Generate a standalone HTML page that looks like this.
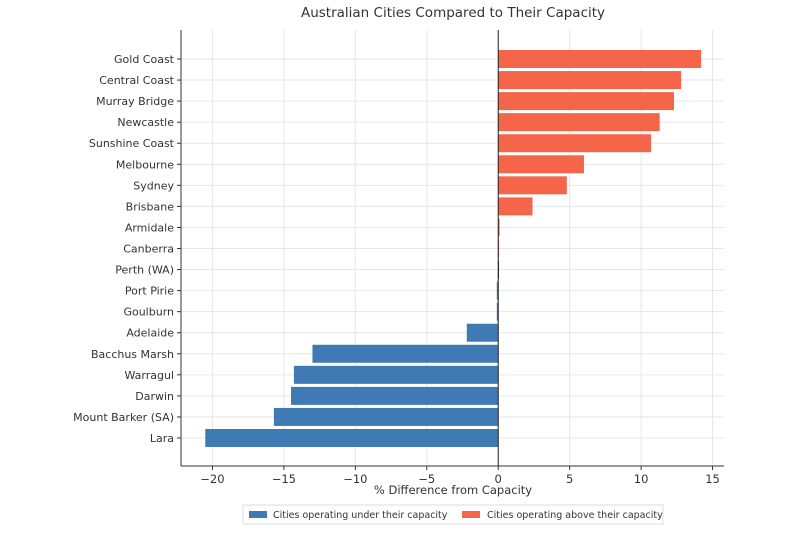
<!DOCTYPE html>
<html><head><meta charset="utf-8"><style>
body{margin:0;background:#fff;font-family:"DejaVu Sans","Liberation Sans",sans-serif;}
svg text{font-family:"DejaVu Sans","Liberation Sans",sans-serif;fill:#333;}
</style></head><body>
<svg id="chart" width="800" height="530" xmlns="http://www.w3.org/2000/svg">
<text x="453" y="17" font-size="13.5" text-anchor="middle">Australian Cities Compared to Their Capacity</text>
<g id="grid"></g><g id="bars"></g><g id="axes"></g>
<text x="453" y="494" font-size="11.5" text-anchor="middle">% Difference from Capacity</text>
<g>
<rect x="243" y="505" width="420" height="19" fill="#fff" stroke="#ddd"/>
<rect x="249" y="511" width="18" height="7" fill="#3f7ab4"/>
<text x="273" y="518" font-size="9.5">Cities operating under their capacity</text>
<rect x="462" y="511" width="18" height="7" fill="#f4654a"/>
<text x="487" y="518" font-size="9.5">Cities operating above their capacity</text>
</g>
</svg>
<script>
const categories=["Gold Coast","Central Coast","Murray Bridge","Newcastle","Sunshine Coast","Melbourne","Sydney","Brisbane","Armidale","Canberra","Perth (WA)","Port Pirie","Goulburn","Adelaide","Bacchus Marsh","Warragul","Darwin","Mount Barker (SA)","Lara"];
const values=[14.2,12.8,12.3,11.3,10.7,6.0,4.8,2.4,0.1,0.05,0,-0.1,-0.1,-2.2,-13.0,-14.3,-14.5,-15.7,-20.5];
const xTicks=[-20,-15,-10,-5,0,5,10,15];
const xMin=-22.2,xMax=15.8,L=181,R=724,T=30,B=466;
const NS="http://www.w3.org/2000/svg";
const x=v=>L+(v-xMin)/(xMax-xMin)*(R-L);
const step=(438-59)/18;
const y=i=>59+i*step;
function mk(tag,attrs,parent){const e=document.createElementNS(NS,tag);for(const k in attrs)e.setAttribute(k,attrs[k]);parent.appendChild(e);return e;}
const grid=document.getElementById('grid'),bars=document.getElementById('bars'),axes=document.getElementById('axes');
xTicks.forEach(t=>{
 const g=mk('line',{x1:x(t),x2:x(t),y1:T,y2:B,stroke:'#e6e6e6'},grid);
 
 
 const tk=mk('line',{x1:x(t),x2:x(t),y1:B,y2:B+4,stroke:'#333'},axes);
 
 
 const tx=mk('text',{x:x(t),y:B+17,'font-size':11.5,'text-anchor':'middle'},axes);
 tx.textContent=t<0?'\u2212'+Math.abs(t):String(t);
 
 
});
categories.forEach((c,i)=>{
 const gl=mk('line',{x1:L,x2:R,y1:y(i),y2:y(i),stroke:'#e6e6e6'},grid);
 
 
 const v=values[i];
 const r=mk('rect',{x:Math.min(x(v),x(0)),y:y(i)-9,width:Math.max(Math.abs(x(v)-x(0)),0.8),height:18,fill:v>0?'#f4654a':(v<0?'#3f7ab4':'#333')},bars);
 
 
 const tk=mk('line',{x1:L-4,x2:L,y1:y(i),y2:y(i),stroke:'#333'},axes);
 
 
 const tx=mk('text',{x:L-7,y:y(i)+4,'font-size':11,'text-anchor':'end'},axes);
 tx.textContent=c;
 
 
});
const zl=mk('line',{x1:x(0),x2:x(0),y1:T,y2:B,stroke:'#222','stroke-width':1},axes);


const la=mk('line',{x1:L,x2:L,y1:T,y2:B,stroke:'#333'},axes);


const ba=mk('line',{x1:L,x2:R,y1:B,y2:B,stroke:'#333'},axes);


</script>
</body></html>
